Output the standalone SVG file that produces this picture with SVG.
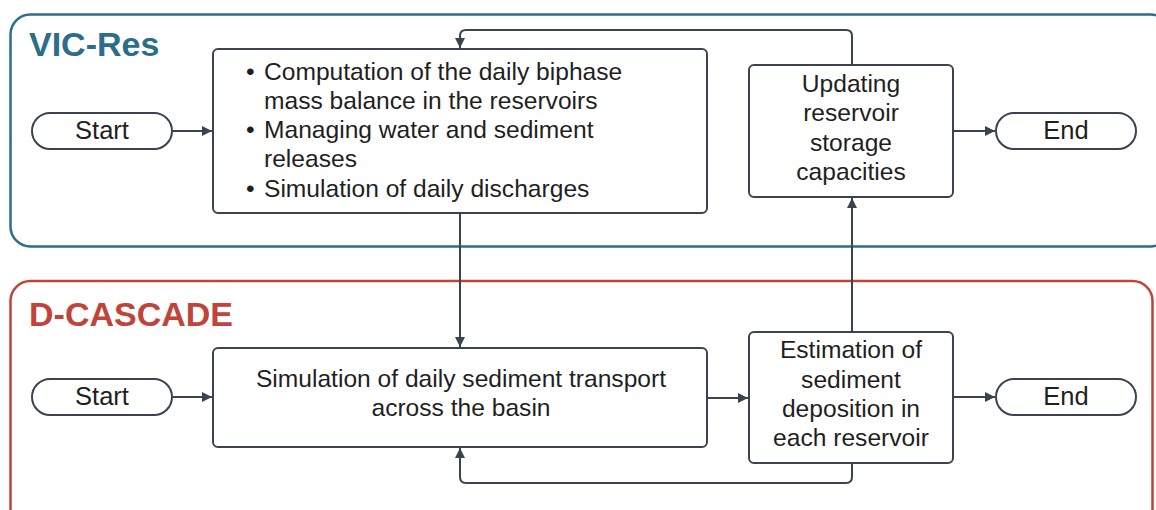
<svg xmlns="http://www.w3.org/2000/svg" width="1156" height="510" viewBox="0 0 1156 510">
  <style>
    .box { fill: #ffffff; stroke: #3b4350; stroke-width: 2; }
    .pill { fill: #ffffff; stroke: #3b4350; stroke-width: 2; }
    .conn { fill: none; stroke: #3b4350; stroke-width: 2; }
    .txt { font-family: "Liberation Sans", Arial, sans-serif; font-size: 24.6px; fill: #1f1f1f; }
    .lbl { font-size: 25.5px; }
    .mid { text-anchor: middle; }
    .title { font-family: "Liberation Sans", Arial, sans-serif; font-size: 34px; font-weight: bold; }
  </style>
  <defs>
    <marker id="arr" viewBox="0 0 10 10" refX="10" refY="5" markerWidth="10" markerHeight="10" markerUnits="userSpaceOnUse" orient="auto">
      <path d="M0,0 L10,5 L0,10 z" fill="#3b4350"/>
    </marker>
  </defs>
  <rect width="1156" height="510" fill="#ffffff"/>

  <g id="vicres">
    <rect x="10.5" y="14.5" width="1160" height="232" rx="20" fill="none" stroke="#2b6e8b" stroke-width="2.5"/>
    <text x="29" y="56" class="title" fill="#2b6e8b">VIC-Res</text>
  </g>
  <g id="dcascade">
    <rect x="10.5" y="281" width="1142" height="260" rx="20" fill="none" stroke="#c0443a" stroke-width="2.5"/>
    <text x="29" y="326" class="title" fill="#c0443a">D-CASCADE</text>
  </g>

  <g id="connectors">
    <path class="conn" d="M172,131 H212" marker-end="url(#arr)"/>
    <path class="conn" d="M953,131 H995" marker-end="url(#arr)"/>
    <path class="conn" d="M852,65 V36 Q852,30 846,30 H466 Q460,30 460,36 V48" marker-end="url(#arr)"/>
    <path class="conn" d="M460,213 V347" marker-end="url(#arr)"/>
    <path class="conn" d="M852,332 V198" marker-end="url(#arr)"/>
    <path class="conn" d="M172,397 H212" marker-end="url(#arr)"/>
    <path class="conn" d="M707,398 H748" marker-end="url(#arr)"/>
    <path class="conn" d="M953,397 H995" marker-end="url(#arr)"/>
    <path class="conn" d="M852,463 V477 Q852,483 846,483 H466 Q460,483 460,477 V448" marker-end="url(#arr)"/>
  </g>

  <g id="start1">
    <rect class="pill" x="32" y="113" width="140" height="36" rx="18"/>
    <text class="txt lbl mid" x="102" y="139">Start</text>
  </g>
  <g id="compute">
    <rect class="box" x="213" y="49" width="494" height="164" rx="5"/>
    <text class="txt" x="246" y="80">•</text>
    <text class="txt" x="264" y="80">Computation of the daily biphase</text>
    <text class="txt" x="264" y="109">mass balance in the reservoirs</text>
    <text class="txt" x="246" y="138">•</text>
    <text class="txt" x="264" y="138">Managing water and sediment</text>
    <text class="txt" x="264" y="167">releases</text>
    <text class="txt" x="246" y="197">•</text>
    <text class="txt" x="264" y="197">Simulation of daily discharges</text>
  </g>
  <g id="update">
    <rect class="box" x="749" y="65" width="204" height="132" rx="5"/>
    <text class="txt mid" x="851" y="92">Updating</text>
    <text class="txt mid" x="851" y="121">reservoir</text>
    <text class="txt mid" x="851" y="151">storage</text>
    <text class="txt mid" x="851" y="180">capacities</text>
  </g>
  <g id="end1">
    <rect class="pill" x="996" y="113" width="140" height="36" rx="18"/>
    <text class="txt lbl mid" x="1066" y="139">End</text>
  </g>

  <g id="start2">
    <rect class="pill" x="32" y="379" width="140" height="36" rx="18"/>
    <text class="txt lbl mid" x="102" y="405">Start</text>
  </g>
  <g id="transport">
    <rect class="box" x="213" y="348" width="494" height="99" rx="5"/>
    <text class="txt mid" x="461" y="387">Simulation of daily sediment transport</text>
    <text class="txt mid" x="461" y="416">across the basin</text>
  </g>
  <g id="estimation">
    <rect class="box" x="749" y="332" width="204" height="131" rx="5"/>
    <text class="txt mid" x="851" y="358">Estimation of</text>
    <text class="txt mid" x="851" y="388">sediment</text>
    <text class="txt mid" x="851" y="417">deposition in</text>
    <text class="txt mid" x="851" y="446">each reservoir</text>
  </g>
  <g id="end2">
    <rect class="pill" x="996" y="379" width="140" height="36" rx="18"/>
    <text class="txt lbl mid" x="1066" y="405">End</text>
  </g>
</svg>
